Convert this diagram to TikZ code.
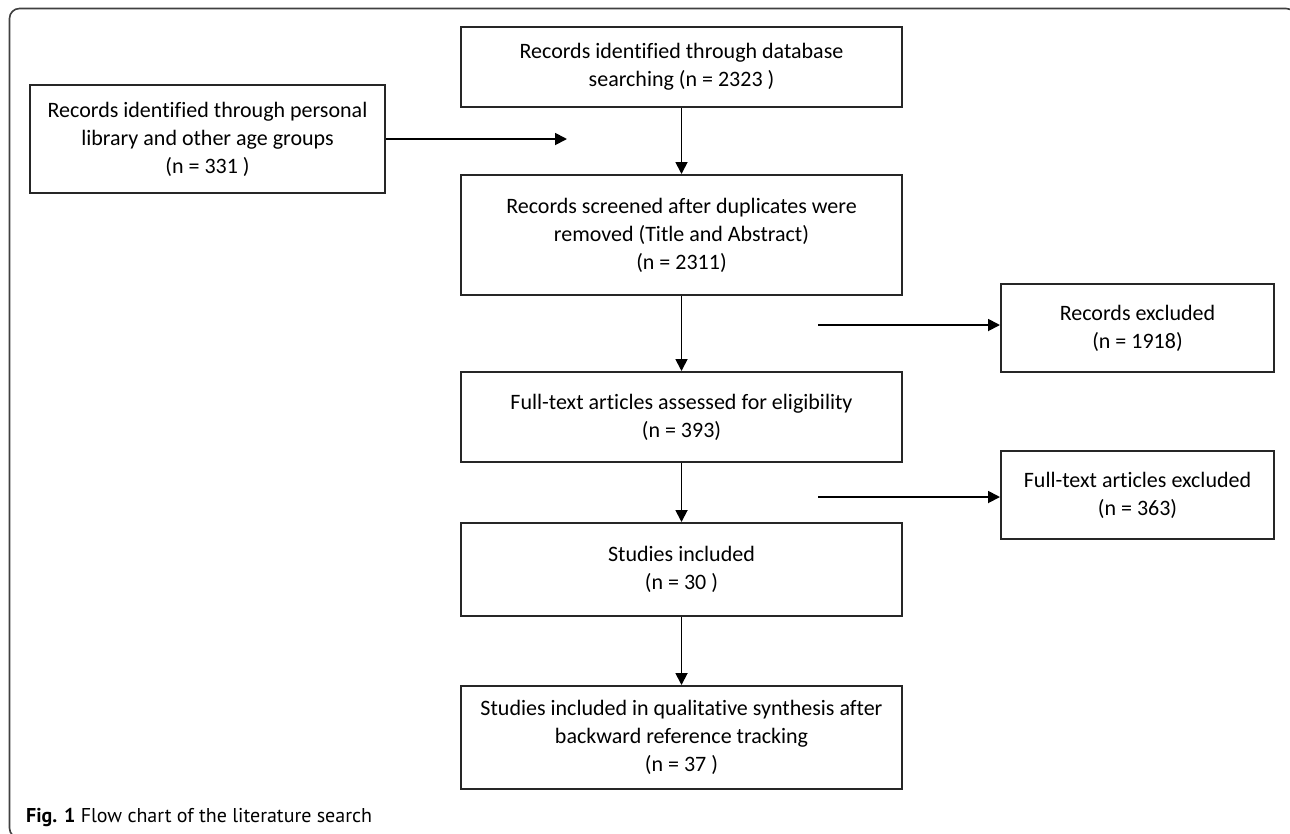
\documentclass[tikz,border=0pt]{standalone}
\usepackage{fontspec}
\setmainfont{Carlito}[Ligatures=CommonOff]
\newfontfamily\capfont{PT Sans}
\usetikzlibrary{arrows.meta}

\begin{document}
\begin{tikzpicture}[
    % 坐标单位:1pt 对应原图 1 像素, y 轴向下
    x=1pt, y=-1pt,
    % 方框样式:统一边框与字体
    mybox/.style={
        rectangle, % 矩形
        draw=black!85, % 边框颜色
        line width=2pt, % 边框宽度
        align=center, % 文字居中
        inner sep=0pt,
        font=\fontsize{22}{28}\selectfont
        },
    % 中间一列与右侧方框的宽度
    midbox/.style={mybox, minimum width=441pt},
    sidebox/.style={mybox, minimum width=273pt},
    % 箭头样式
    myarrow/.style={line width=1.8pt, -{Triangle[length=12pt,width=12pt]}},
    % 外框样式
    myframe/.style={draw=black!75, line width=1.6pt, rounded corners=10pt}
    ]
    \useasboundingbox (0,0) rectangle (1290,833);
    \fill[white] (0,0) rectangle (1290,833);
    \begin{scope}
        \clip (0,0) rectangle (1290,833);
        \draw[myframe] (9.5,8.5) rectangle (1296,838);
    \end{scope}
    % ========== 第一步:中间一列方框 ==========
    \foreach \name/\y/\h/\txt in {
        a/67/80/{Records identified through database\\searching (n = 2323 )},
        b/235/120/{Records screened after duplicates were\\removed (Title and Abstract)\\(n = 2311)},
        c/417/90/{Full-text articles assessed for eligibility\\(n = 393)},
        d/569.5/93/{Studies included\\(n = 30 )},
        e/737.5/103/{Studies included in qualitative synthesis after\\backward reference tracking\\(n = 37 )}} {
        \node [midbox, minimum height=\h pt] (\name) at (681.5,\y) {\txt};
    }
    % ========== 第二步:左侧与右侧方框 ==========
    \node [mybox, minimum width=355pt, minimum height=108pt] (lib) at (207.5,139)
        {Records identified through personal\\library and other age groups\\(n = 331 )};
    \node [sidebox, minimum height=88pt] (ex1) at (1137.5,328) {Records excluded\\(n = 1918)};
    \node [sidebox, minimum height=88pt] (ex2) at (1137.5,495) {Full-text articles excluded\\(n = 363)};
    % ========== 第三步:箭头 ==========
    \foreach \s/\t in {a/b, b/c, c/d, d/e} {
        \draw [myarrow] (\s) -- (\t); % 竖直箭头
    }
    \coordinate (libend) at (567,139);
    \draw [myarrow] (lib) -- (libend);
    \foreach \p/\t/\y in {x1/ex1/325, x2/ex2/497} {
        \coordinate (\p) at (818,\y);
        \draw [myarrow] (\p) -- (\p -| \t.west); % 水平箭头
    }
    % ========== 第四步:图注 ==========
    \node [anchor=base west, inner sep=0pt, font=\capfont\fontsize{20}{24}\selectfont] (cap) at (26,822)
        {\textbf{Fig. 1} Flow chart of the literature search};
\end{tikzpicture}
\end{document}
